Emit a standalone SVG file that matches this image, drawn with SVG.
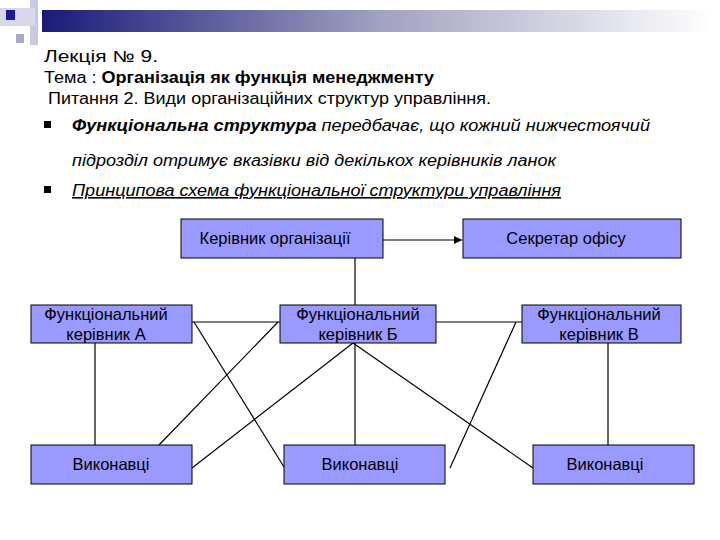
<svg xmlns="http://www.w3.org/2000/svg" width="720" height="540" viewBox="0 0 720 540">
<defs>
<linearGradient id="g" x1="0" x2="1" y1="0" y2="0"><stop offset="0" stop-color="#1a1a7a"/><stop offset="0.5" stop-color="#a0a0c0"/><stop offset="1" stop-color="#ffffff"/></linearGradient>
<marker id="ar" markerWidth="8" markerHeight="8" refX="8" refY="4" orient="auto" markerUnits="userSpaceOnUse"><path d="M0,0 L8,4 L0,8 z" fill="#000"/></marker>
<style>
.t{font-family:"Liberation Sans",Arial,sans-serif;font-size:16px;fill:#000}
.n rect{fill:#9999ff;stroke:#000;stroke-width:1}
.n text{font-family:"Liberation Sans",Arial,sans-serif;font-size:16.5px;text-anchor:middle;fill:#000}
.c line{stroke:#000;stroke-width:1.2}
</style>
</defs>
<rect width="720" height="540" fill="#fff"/>
<rect x="30" y="0" width="8" height="45" fill="#c8c8e0"/>
<rect x="0" y="8" width="35" height="18" fill="#d8d8ea"/>
<rect x="42" y="10" width="670" height="22" fill="url(#g)"/>
<rect x="6" y="10" width="9" height="10" fill="#1a1a9a"/>
<rect x="16" y="34" width="8" height="9" fill="#a8a8c8"/>
<text class="t" x="44" y="62" textLength="114" lengthAdjust="spacingAndGlyphs">Лекція № 9.</text>
<text class="t" x="44" y="83" textLength="390" lengthAdjust="spacingAndGlyphs">Тема : <tspan font-weight="bold">Організація як функція менеджменту</tspan></text>
<text class="t" x="48" y="104" textLength="443" lengthAdjust="spacingAndGlyphs">Питання 2. Види організаційних структур управління.</text>
<rect x="44" y="121" width="7" height="7" fill="#000"/>
<text class="t" x="72" y="131" font-style="italic" textLength="578" lengthAdjust="spacingAndGlyphs"><tspan font-weight="bold">Функціональна структура</tspan> передбачає, що кожний нижчестоячий</text>
<text class="t" x="72" y="166" font-style="italic" textLength="484" lengthAdjust="spacingAndGlyphs">підрозділ отримує вказівки від декількох керівників ланок</text>
<rect x="44" y="186" width="7" height="7" fill="#000"/>
<text class="t" x="72" y="196" font-style="italic" text-decoration="underline" textLength="489" lengthAdjust="spacingAndGlyphs">Принципова схема функціональної структури управління</text>
<g class="c">
<line x1="383" y1="240" x2="462" y2="240" marker-end="url(#ar)"/>
<line x1="355" y1="258" x2="355" y2="305"/>
<line x1="192" y1="322" x2="280" y2="322"/>
<line x1="436" y1="322" x2="522" y2="322"/>
<line x1="95" y1="343" x2="95" y2="445"/>
<line x1="608" y1="343" x2="608" y2="445"/>
<line x1="355" y1="343" x2="355" y2="445"/>
<line x1="194" y1="322" x2="284" y2="467"/>
<line x1="278" y1="322" x2="159" y2="445"/>
<line x1="353" y1="343" x2="192" y2="468"/>
<line x1="353" y1="343" x2="533" y2="468"/>
<line x1="516" y1="322" x2="450" y2="468"/>
</g>
<g id="kerivnyk" class="n"><rect x="181" y="219" width="202" height="39"/><text x="275" y="244">Керівник організації</text></g>
<g id="sekretar" class="n"><rect x="463" y="219" width="218" height="39"/><text x="566" y="244">Секретар офісу</text></g>
<g id="fa" class="n"><rect x="31" y="305" width="161" height="38"/><text x="106" y="320">Функціональний</text><text x="106" y="340">керівник А</text></g>
<g id="fb" class="n"><rect x="280" y="305" width="156" height="38"/><text x="358" y="320">Функціональний</text><text x="358" y="340">керівник Б</text></g>
<g id="fc" class="n"><rect x="522" y="305" width="159" height="38"/><text x="599" y="320">Функціональний</text><text x="599" y="340">керівник В</text></g>
<g id="va" class="n"><rect x="31" y="445" width="161" height="39"/><text x="111" y="470">Виконавці</text></g>
<g id="vb" class="n"><rect x="284" y="445" width="161" height="39"/><text x="360" y="470">Виконавці</text></g>
<g id="vc" class="n"><rect x="533" y="445" width="161" height="39"/><text x="605" y="470">Виконавці</text></g>
</svg>
